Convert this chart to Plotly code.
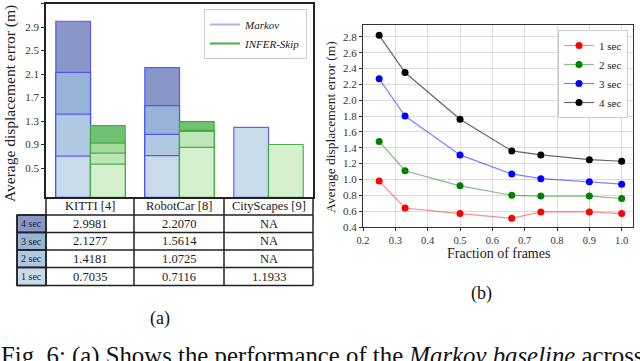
import plotly.graph_objects as go

# ---- data (a): bar chart + table ----
datasets = ["KITTI [4]", "RobotCar [8]", "CityScapes [9]"]
horizons = ["4 sec", "3 sec", "2 sec", "1 sec"]
markov_4s = [2.9981, 2.2070, None]
markov_3s = [2.1277, 1.5614, None]
markov_2s = [1.4181, 1.0725, None]
markov_1s = [0.7035, 0.7116, 1.1933]
infer_4s = [1.22, 1.29, None]
infer_3s = [0.925, 1.14, None]
infer_2s = [0.755, 1.125, None]
infer_1s = [0.565, 0.85, 0.90]

# ---- data (b): fraction of frames ----
frac = [0.25, 0.33, 0.5, 0.66, 0.75, 0.9, 1.0]
ade_1s = [0.98, 0.64, 0.57, 0.51, 0.59, 0.59, 0.57]
ade_2s = [1.48, 1.11, 0.92, 0.80, 0.79, 0.79, 0.76]
ade_3s = [2.27, 1.80, 1.31, 1.07, 1.01, 0.97, 0.94]
ade_4s = [2.82, 2.35, 1.76, 1.36, 1.31, 1.25, 1.23]

W, H = 640, 361
SERIF = "Liberation Serif"


def px(x):
    return x / W


def py(y):
    return 1 - y / H


markov_cols = ["#8b96c8", "#97b3d8", "#b0c8e2", "#c9dbeb"]
infer_cols = ["#72c072", "#a6da9d", "#bfe6b6", "#d6f0cf"]
markov_vals = [markov_4s, markov_3s, markov_2s, markov_1s]
infer_vals = [infer_4s, infer_3s, infer_2s, infer_1s]

fig = go.Figure()
xpos = list(range(len(datasets)))
bw = 0.39
for vals, col in zip(markov_vals, markov_cols):
    fig.add_trace(go.Bar(x=xpos, y=vals, width=bw, offset=-bw, marker_color=col,
                         marker_line=dict(color="rgba(70,70,255,0.85)", width=1.2),
                         showlegend=False, xaxis="x", yaxis="y"))
for vals, col in zip(infer_vals, infer_cols):
    fig.add_trace(go.Bar(x=xpos, y=vals, width=bw, offset=0, marker_color=col,
                         marker_line=dict(color="rgba(60,170,60,0.9)", width=1.2),
                         showlegend=False, xaxis="x", yaxis="y"))

# legend entries for (a)
fig.add_trace(go.Scatter(x=[None], y=[None], mode="lines", name="<i>Markov</i>",
                         line=dict(color="#a9b6f5", width=2), legend="legend2",
                         xaxis="x", yaxis="y"))
fig.add_trace(go.Scatter(x=[None], y=[None], mode="lines", name="<i>INFER-Skip</i>",
                         line=dict(color="#45b045", width=2), legend="legend2",
                         xaxis="x", yaxis="y"))

# ---- (b) lines ----
series = [("1 sec", ade_1s, "red", "rgba(255,0,0,0.45)"),
          ("2 sec", ade_2s, "green", "rgba(0,128,0,0.5)"),
          ("3 sec", ade_3s, "blue", "rgba(0,0,255,0.5)"),
          ("4 sec", ade_4s, "black", "rgba(0,0,0,0.6)")]
for name, vals, mc, lc in series:
    fig.add_trace(go.Scatter(x=frac, y=vals, mode="lines+markers", name=name,
                             line=dict(color=lc, width=1.2),
                             marker=dict(color=mc, size=7),
                             xaxis="x2", yaxis="y2", legend="legend"))

tickfont = dict(family=SERIF, size=11, color="#333")

fig.update_layout(
    width=W, height=H, margin=dict(l=0, r=0, t=0, b=0, autoexpand=False),
    paper_bgcolor="white", plot_bgcolor="white",
    barmode="overlay", font=dict(family=SERIF, color="#222"),
    xaxis=dict(domain=[px(46), px(313)], range=[-0.5, 2.5], showticklabels=False,
               ticks="", showgrid=False, zeroline=False, showline=True, automargin=False,
               linecolor="#222", linewidth=1.5, mirror=True),
    yaxis=dict(domain=[py(197.4), py(3.5)], range=[0, 3.3], tickvals=[0.5, 0.9, 1.3, 1.7, 2.1, 2.5, 2.9, 3.3],
               tickformat=".1f", ticks="outside", ticklen=3, tickcolor="#333", automargin=False,
               tickfont=tickfont, showgrid=False, zeroline=False, showline=True,
               linecolor="#222", linewidth=1.5, mirror=True),
    xaxis2=dict(domain=[px(363), px(633)], range=[0.2, 1.035], dtick=0.1, tick0=0.2,
                tickformat=".1f", ticks="outside", ticklen=3, tickcolor="#333", automargin=False,
                tickfont=dict(family=SERIF, size=10.5, color="#333"), showgrid=True,
                gridcolor="#dcdcdc", zeroline=False,
                showline=True, linecolor="#333", linewidth=1.2, mirror=True, anchor="y2"),
    yaxis2=dict(domain=[py(227), py(25)], range=[0.4, 2.95], dtick=0.2, tick0=0.4,
                tickformat=".1f", ticks="outside", ticklen=3, tickcolor="#333", automargin=False,
                tickfont=tickfont, showgrid=True, gridcolor="#dcdcdc", zeroline=False,
                showline=True, linecolor="#333", linewidth=1.2, mirror=True, anchor="x2"),
    legend=dict(x=px(628), y=py(30), xanchor="right", yanchor="top",
                bgcolor="white", bordercolor="#cccccc", borderwidth=1,
                font=dict(family=SERIF, size=11, color="#222"),
                itemwidth=30, tracegroupgap=0),
    legend2=dict(x=px(307), y=py(9), xanchor="right", yanchor="top",
                 bgcolor="white", bordercolor="#cccccc", borderwidth=1,
                 font=dict(family=SERIF, size=11, color="#222"), itemwidth=30),
)

# ---- table under (a) ----
col_x = [17, 46, 134, 224, 313]
row_y = [197, 215, 232.5, 250, 267.5, 285.5]
shapes = []
line = dict(color="#222", width=1.5)
# label cells with fill
for i, col in enumerate(markov_cols):
    shapes.append(dict(type="rect", xref="paper", yref="paper",
                       x0=px(col_x[0]), x1=px(col_x[1]), y0=py(row_y[i + 2]), y1=py(row_y[i + 1]),
                       fillcolor=col, line=line, layer="below"))
# grid lines of data area
for x in col_x[1:]:
    shapes.append(dict(type="line", xref="paper", yref="paper", x0=px(x), x1=px(x),
                       y0=py(row_y[0]), y1=py(row_y[-1]), line=line))
for y in row_y[1:]:
    shapes.append(dict(type="line", xref="paper", yref="paper", x0=px(col_x[0]), x1=px(col_x[-1]),
                       y0=py(y), y1=py(y), line=line))
shapes.append(dict(type="line", xref="paper", yref="paper", x0=px(col_x[0]), x1=px(col_x[0]),
                   y0=py(row_y[1]), y1=py(row_y[-1]), line=line))
fig.update_layout(shapes=shapes)


def label(text, x, y, size, angle=0, xa="center", ya="middle", color="#222"):
    return dict(text=text, x=px(x), y=py(y), xref="paper", yref="paper", showarrow=False,
                xanchor=xa, yanchor=ya, textangle=angle,
                font=dict(family=SERIF, size=size, color=color))


ann = []
for j, name in enumerate(datasets):
    cx = (col_x[j + 1] + col_x[j + 2]) / 2
    ann.append(label(name, cx, (row_y[0] + row_y[1]) / 2, 12.5))
    for i, vals in enumerate(markov_vals):
        v = vals[j]
        txt = "NA" if v is None else f"{v:.4f}"
        ann.append(label(txt, cx, (row_y[i + 1] + row_y[i + 2]) / 2, 12.5))
for i, h in enumerate(horizons):
    ann.append(label(h, (col_x[0] + col_x[1]) / 2, (row_y[i + 1] + row_y[i + 2]) / 2, 10))

ann += [
    label("Average displacement error (m)", 10, 104, 15.5, angle=-90),
    label("Average displacement error (m)", 331, 127, 13.5, angle=-90),
    label("Fraction of frames", 498, 253, 14),
    label("(a)", 160, 318, 18, color="#111"),
    label("(b)", 481, 293, 18, color="#111"),
    label("Fig. 6: (a) Shows the performance of the <i>Markov baseline</i> across",
          -1, 340, 24.8, xa="left", ya="top", color="#111"),
]
fig.update_layout(annotations=ann)

fig.write_html("out.html", config={"displayModeBar": False},
               post_script="document.body.style.margin='0';document.body.style.overflow='hidden';")
